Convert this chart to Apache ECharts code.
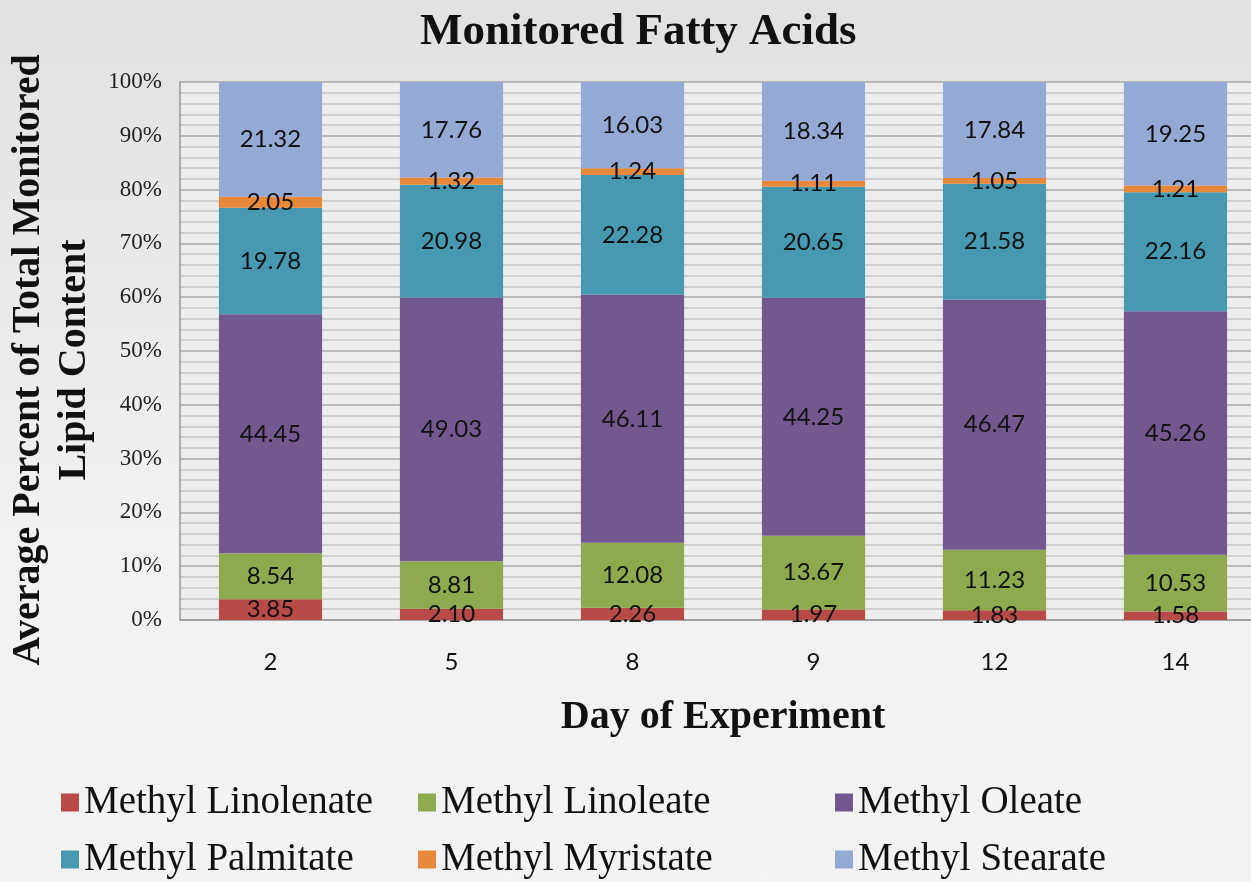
<!DOCTYPE html>
<html>
<head>
<meta charset="utf-8">
<script src="https://cdn.jsdelivr.net/npm/echarts@6/dist/echarts.min.js"></script>
<style>
  html, body { margin: 0; padding: 0; }
  #main { width: 1251px; height: 882px; background: linear-gradient(to bottom, #e1e1df, #f1f1f1 60%, #f3f3f3); }
</style>
</head>
<body>
<div id="main"></div>
<script>
var days = ['2', '5', '8', '9', '12', '14']
var linolenate = [3.85, 2.10, 2.26, 1.97, 1.83, 1.58]
var linoleate = [8.54, 8.81, 12.08, 13.67, 11.23, 10.53]
var oleate = [44.45, 49.03, 46.11, 44.25, 46.47, 45.26]
var palmitate = [19.78, 20.98, 22.28, 20.65, 21.58, 22.16]
var myristate = [2.05, 1.32, 1.24, 1.11, 1.05, 1.21]
var stearate = [21.32, 17.76, 16.03, 18.34, 17.84, 19.25]
var yTicks = [0, 10, 20, 30, 40, 50, 60, 70, 80, 90, 100]

var serif = '"Liberation Serif", "DejaVu Serif", serif'
var chart = echarts.init(document.getElementById('main'))

function bar (name, data, color) {
  return {
    name: name,
    type: 'bar',
    stack: 'total',
    barWidth: '57%',
    data: data,
    itemStyle: { color: color },
    label: {
      show: true,
      position: 'inside',
      color: '#111',
      fontFamily: 'Lato',
      fontSize: 24,
      formatter: function (p) { return p.value.toFixed(2) }
    }
  }
}

function legendCol (names, left) {
  return {
    orient: 'vertical',
    left: left,
    top: 778,
    height: 150,
    itemWidth: 18,
    itemHeight: 18,
    itemGap: 18,
    icon: 'rect',
    data: names,
    textStyle: { fontFamily: serif, fontSize: 39, color: '#111' }
  }
}

var option = {
  animation: false,
  title: {
    text: 'Monitored Fatty Acids',
    left: 415,
    top: 5,
    textStyle: { fontFamily: serif, fontSize: 45, fontWeight: 'bold', color: '#111' }
  },
  legend: [
    legendCol(['Methyl Linolenate', 'Methyl Palmitate'], 56),
    legendCol(['Methyl Linoleate', 'Methyl Myristate'], 413),
    legendCol(['Methyl Oleate', 'Methyl Stearate'], 830)
  ],
  grid: {
    left: 180, top: 82, bottom: 262, right: -15,
    outerBoundsMode: 'none',
    containLabel: false,
    show: true, backgroundColor: '#ededed', borderWidth: 0
  },
  xAxis: {
    type: 'category',
    data: days,
    name: 'Day of Experiment',
    nameLocation: 'middle',
    nameGap: 78,
    nameTextStyle: { fontFamily: serif, fontSize: 40, fontWeight: 'bold', color: '#111' },
    axisLine: { lineStyle: { color: '#999', width: 1.5 } },
    axisTick: { show: false },
    axisLabel: { fontFamily: 'Lato', fontSize: 24, color: '#111', margin: 30 }
  },
  yAxis: {
    type: 'value',
    min: yTicks[0],
    max: yTicks[yTicks.length - 1],
    interval: 10,
    name: 'Average Percent of Total Monitored\nLipid Content',
    nameLocation: 'middle',
    nameGap: 78,
    nameTextStyle: { fontFamily: serif, fontSize: 40, fontWeight: 'bold', color: '#111', lineHeight: 46, padding: [0, 18, 0, 0] },
    axisLine: { show: true, lineStyle: { color: '#999', width: 1.5 } },
    axisTick: { show: false },
    axisLabel: { fontFamily: serif, fontSize: 23, color: '#222', margin: 18, formatter: '{value}%' },
    splitLine: { lineStyle: { color: '#a8a8a8', width: 1.5 } },
    minorTick: { show: false, splitNumber: 5 },
    minorSplitLine: { show: true, lineStyle: { color: '#c6c6c6', width: 1.5 } }
  },
  series: [
    bar('Methyl Linolenate', linolenate, '#b94a48'),
    bar('Methyl Linoleate', linoleate, '#8daa4e'),
    bar('Methyl Oleate', oleate, '#735890'),
    bar('Methyl Palmitate', palmitate, '#4699b1'),
    bar('Methyl Myristate', myristate, '#e8883a'),
    bar('Methyl Stearate', stearate, '#94a9d3')
  ]
}

chart.setOption(option)
</script>
</body>
</html>
